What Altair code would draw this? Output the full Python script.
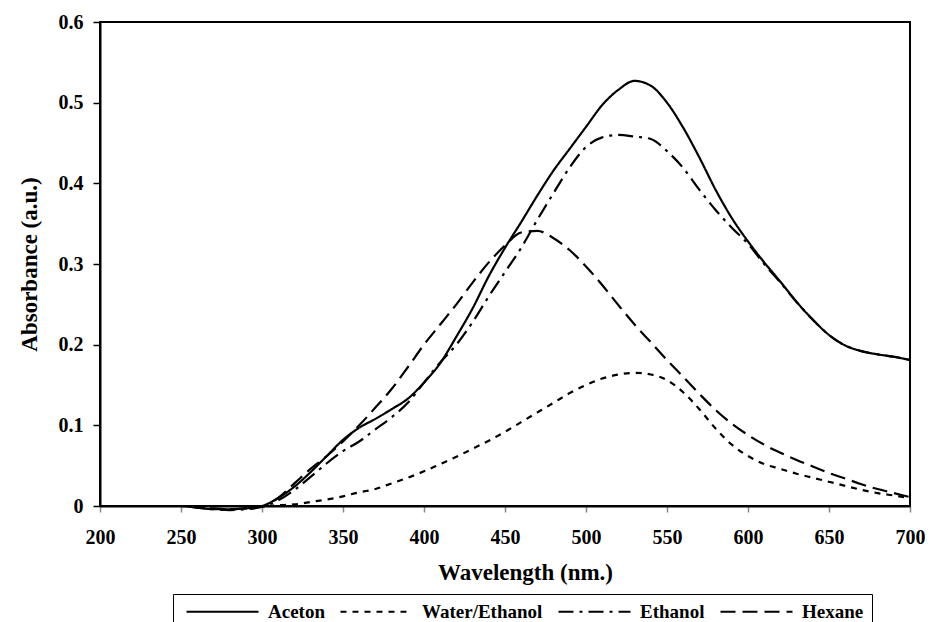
import altair as alt
import pandas as pd

wavelength = [200, 210, 220, 230, 240, 250, 260, 270, 280, 290, 300, 310, 320, 330, 340, 350,
              360, 370, 380, 390, 400, 410, 420, 430, 440, 450, 460, 470, 480, 490, 500, 510,
              520, 530, 540, 550, 560, 570, 580, 590, 600, 610, 620, 630, 640, 650, 660, 670,
              680, 690, 700]

aceton = [0, 0, 0, 0, 0, 0, -0.002, -0.004, -0.004, -0.003, 0, 0.01, 0.024, 0.042, 0.062, 0.082,
          0.097, 0.108, 0.12, 0.133, 0.153, 0.177, 0.21, 0.245, 0.285, 0.32, 0.352, 0.385, 0.416, 0.443, 0.47, 0.497,
          0.516, 0.527, 0.521, 0.5, 0.469, 0.432, 0.392, 0.357, 0.328, 0.302, 0.278, 0.253, 0.231, 0.212, 0.199, 0.192,
          0.188, 0.185, 0.181]

water_ethanol = [0, 0, 0, 0, 0, 0, 0, 0, 0, 0, 0, 0.001, 0.002, 0.005, 0.008, 0.012,
                 0.017, 0.021, 0.028, 0.035, 0.043, 0.052, 0.061, 0.071, 0.081, 0.092, 0.104, 0.116, 0.128, 0.14, 0.15, 0.158,
                 0.163, 0.165, 0.163, 0.156, 0.141, 0.12, 0.096, 0.076, 0.062, 0.052, 0.046, 0.04, 0.035, 0.03, 0.025, 0.02,
                 0.016, 0.013, 0.01]

ethanol = [0, 0, 0, 0, 0, 0, -0.002, -0.004, -0.005, -0.004, -0.001, 0.007, 0.02, 0.036, 0.053, 0.068,
           0.08, 0.095, 0.11, 0.128, 0.153, 0.178, 0.2, 0.228, 0.26, 0.29, 0.32, 0.355, 0.388, 0.42, 0.445, 0.457,
           0.46, 0.458, 0.455, 0.44, 0.419, 0.392, 0.367, 0.345, 0.325, 0.3, 0.277, 0.253, 0.231, 0.212, 0.199, 0.192,
           0.188, 0.185, 0.181]

hexane = [0, 0, 0, 0, 0, 0, -0.001, -0.003, -0.004, -0.003, -0.001, 0.01, 0.028, 0.046, 0.062, 0.08,
          0.1, 0.122, 0.145, 0.172, 0.2, 0.225, 0.25, 0.277, 0.302, 0.323, 0.339, 0.341, 0.332, 0.317, 0.297, 0.274,
          0.249, 0.225, 0.203, 0.181, 0.16, 0.139, 0.119, 0.102, 0.088, 0.076, 0.066, 0.057, 0.049, 0.041, 0.034, 0.027,
          0.021, 0.016, 0.011]

series_names = ["Aceton", "Water/Ethanol", "Ethanol", "Hexane"]
series_values = [aceton, water_ethanol, ethanol, hexane]
dashes = [[1, 0], [6, 6], [15, 6, 3, 6], [15, 7]]

rows = []
for name, vals in zip(series_names, series_values):
    for w, a in zip(wavelength, vals):
        rows.append({"Wavelength": w, "Absorbance": a, "Solvent": name})
df = pd.DataFrame(rows)

x_ticks = [200, 250, 300, 350, 400, 450, 500, 550, 600, 650, 700]
y_ticks = [0, 0.1, 0.2, 0.3, 0.4, 0.5, 0.6]

FONT = "'Liberation Serif', 'Times New Roman', Times, serif"

chart = alt.Chart(df).mark_line(
    interpolate="monotone", strokeWidth=2.2, color="black"
).encode(
    x=alt.X("Wavelength:Q",
            scale=alt.Scale(domain=[200, 700], nice=False, zero=False),
            axis=alt.Axis(values=x_ticks, title="Wavelength (nm.)", grid=False,
                          tickSize=6, tickColor="#888", labelPadding=15,
                          labelFlush=False, labelOverlap=False, labelBound=False,
                          titlePadding=14, titleX=425, format="d")),
    y=alt.Y("Absorbance:Q",
            scale=alt.Scale(domain=[0, 0.6], nice=False),
            axis=alt.Axis(values=y_ticks, title="Absorbance (a.u.)", grid=False,
                          tickSize=7, labelPadding=10, titlePadding=17,
                          labelFlush=False, labelOverlap=False,
                          labelExpr="datum.value == 0 ? '0' : format(datum.value, '.1f')")),
    strokeDash=alt.StrokeDash("Solvent:N",
                              scale=alt.Scale(domain=series_names, range=dashes),
                              sort=series_names,
                              legend=alt.Legend(orient="none", legendX=73, legendY=572,
                                                direction="horizontal", title=None,
                                                gridAlign="each",
                                                symbolType="M-8,0H8", symbolSize=81,
                                                symbolOffset=32,
                                                symbolStrokeWidth=2, symbolStrokeColor="black",
                                                labelFont=FONT, labelFontWeight="bold",
                                                labelFontSize=19, labelColor="black",
                                                labelOffset=36, columnPadding=10,
                                                strokeColor="black", padding=8)),
    order=alt.Order("Wavelength:Q"),
).properties(
    width=810, height=484,
    autosize=alt.AutoSizeParams(type="none"),
    padding={"left": 92, "top": 14, "right": 15, "bottom": 116},
).configure_view(
    stroke="black", strokeWidth=2
).configure_axis(
    labelFont=FONT, labelFontWeight="bold", labelFontSize=20, labelColor="black",
    titleFont=FONT, titleFontWeight="bold", titleFontSize=23, titleColor="black",
    domainColor="black", domainWidth=2, tickWidth=1.5
).configure_axisY(
    tickColor="black"
)

chart.save("out.html", embed_options={"renderer": "svg", "actions": False})
